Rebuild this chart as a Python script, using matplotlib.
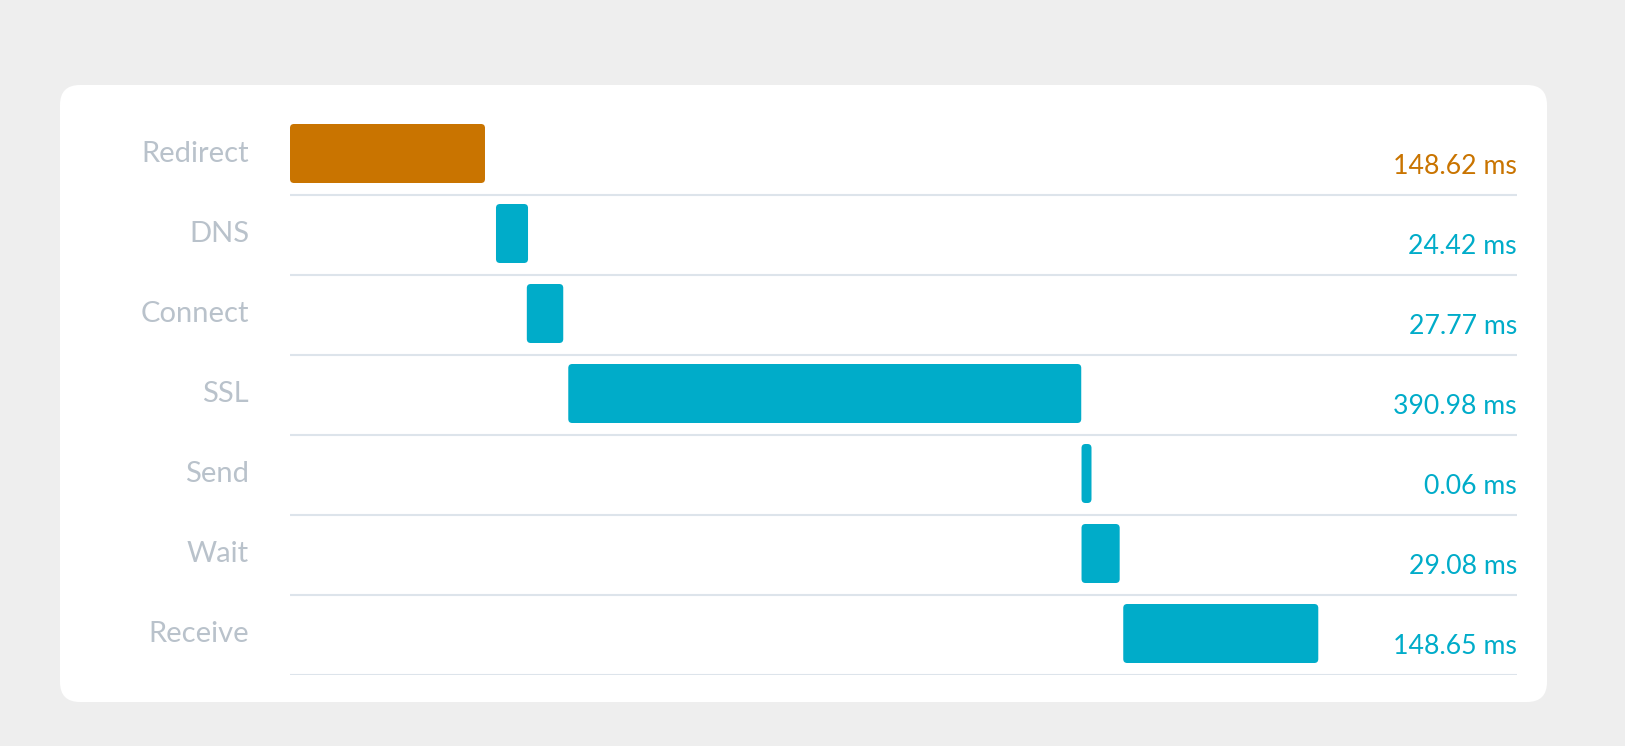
import matplotlib.pyplot as plt
from matplotlib.patches import FancyBboxPatch

phases = ['Redirect', 'DNS', 'Connect', 'SSL', 'Send', 'Wait', 'Receive']
durations = [148.62, 24.42, 27.77, 390.98, 0.06, 29.08, 148.65]
starts = [0.0, 157.0, 180.5, 212.1, 603.3, 603.3, 635.1]
bar_colors = ['#c97400', '#00acc9', '#00acc9', '#00acc9', '#00acc9', '#00acc9', '#00acc9']

plt.rcParams['font.family'] = ['Lato', 'DejaVu Sans']

W, H = 1625, 746
fig = plt.figure(figsize=(W / 100, H / 100), dpi=100, facecolor='#eeeeee')

# card background in pixel coordinates
bg = fig.add_axes([0, 0, 1, 1])
bg.set_xlim(0, W)
bg.set_ylim(H, 0)
bg.axis('off')
bg.add_patch(FancyBboxPatch((60, 85), 1487, 617, boxstyle='round,pad=0,rounding_size=20',
                            facecolor='white', edgecolor='none'))

# plot area: x 290..1517 px, y 115..675 px
left, right, top, bottom = 290, 1517, 115, 675
ax = fig.add_axes([left / W, 1 - bottom / H, (right - left) / W, (bottom - top) / H])
ax.patch.set_visible(False)
px_per_ms = 1.312
xmax = (right - left) / px_per_ms
ax.set_xlim(0, xmax)
ax.set_ylim(len(phases), 0)
ax.axis('off')

row_px = (bottom - top) / len(phases)
aspect = px_per_ms / row_px
min_w = 7.6
for i, (name, s, d, c) in enumerate(zip(phases, starts, durations, bar_colors)):
    w = max(d, min_w)
    y0 = i + 9 / row_px
    h = 59 / row_px
    r = min(4 / px_per_ms, w / 2)
    ax.add_patch(FancyBboxPatch((s, y0), w, h, boxstyle=f'round,pad=0,rounding_size={r}',
                                mutation_aspect=aspect, facecolor=c, edgecolor='none'))
    ax.axhline(i + 1, color='#dde4eb', lw=1.5, zorder=0)
    ax.annotate(name, xy=(0, y0 + h / 2), xycoords=('axes fraction', 'data'),
                xytext=(-41, 0), textcoords='offset pixels', ha='right', va='center',
                fontsize=21, color='#b9c2cb')
    ax.text(1.0, i + 59 / row_px, f'{d:.2f} ms', transform=ax.get_yaxis_transform(),
            ha='right', va='baseline', fontsize=19.2, color=c)

fig.savefig('out.png', dpi=100, facecolor=fig.get_facecolor())
